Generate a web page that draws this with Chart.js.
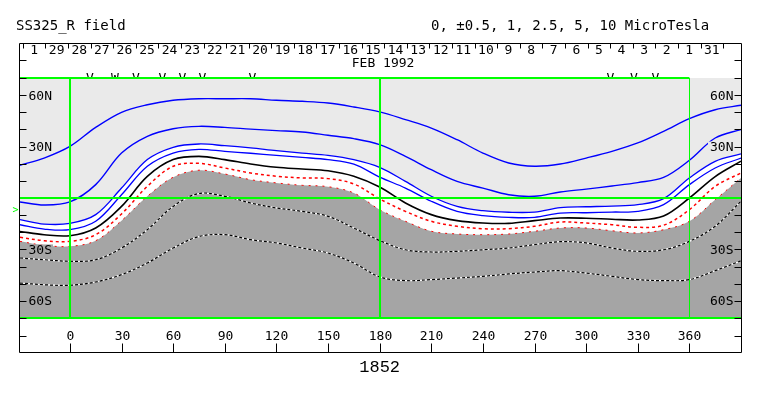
<!DOCTYPE html>
<html><head><meta charset="utf-8">
<script src="https://cdn.jsdelivr.net/npm/chart.js@4/dist/chart.umd.min.js"></script>
<style>html,body{margin:0;padding:0;background:#fff;}#wrap{width:763px;height:396px;}</style>
</head><body><div id="wrap"><canvas id="c" width="763" height="396"></canvas></div>
<script>
// ---- data ----
const longitudes = [-29,-15,0,15,30,45,60,75,90,105,120,135,150,165,180,195,210,225,240,255,270,285,300,315,330,345,360,375,390];
const contourPos5   = [19.1,23.3,30.1,41.2,50,54.4,57,57.9,57.9,57.9,57,56.4,55.4,53.1,50.2,45.7,40.8,34,26.2,20.4,18.5,19.8,23.3,27.2,32.1,38.9,46.3,51.5,54.1];
const contourPos2_5 = [-2.3,-4.1,-2.3,7.8,26.2,36,40.4,41.8,41.2,40.2,39.3,38.5,36.6,34.6,31.1,24.3,16.5,9.7,5.8,1.9,1,3.5,5.2,7,9,12,22,35,40];
const contourPos1   = [-12.6,-15.2,-14.8,-9.7,5.8,22.4,29.6,31.5,30.5,29.2,27.6,26.2,24.9,22.4,17.9,9.7,1,-4.9,-7.4,-8.3,-8.2,-5.6,-5.1,-4.7,-3.9,-0.4,11.7,21.4,25.7];
const contourPos0_5 = [-15.6,-18.1,-18.5,-13.6,1.9,18.5,26.2,28.4,27.2,26.1,24.9,23.7,22.4,19.8,12.2,5.8,-1.9,-7.8,-10.3,-11.3,-11.3,-8.8,-8.6,-8.2,-7.8,-3.9,7.8,17.5,23.3];
const contourZero   = [-19.5,-21.4,-22,-17.5,-4.9,12.6,22.4,24.3,22.4,19.8,17.9,16.9,15.9,12.7,6.4,-2.9,-9.7,-13.2,-14.6,-14.8,-13.2,-11.7,-11.8,-12.4,-12.8,-10.5,0,12.5,21.5];
const contourNeg0_5 = [-22.9,-24.9,-25.3,-21.4,-9.3,6.8,18.5,20.2,17.5,14.6,12.7,11.7,11.3,8.2,-0.5,-7.8,-13.6,-16.5,-17.9,-17.9,-16.5,-14,-14.6,-15.6,-17.1,-15.9,-6.8,6.8,14.6];
const contourNeg1   = [-25.3,-27.6,-28.2,-24.9,-13.2,1,12.1,16.2,14,10.7,8.8,7.4,6.6,2.9,-6.8,-13.6,-19.4,-21,-21.4,-21,-19.4,-17.5,-17.5,-19.1,-20.4,-18.5,-13.6,-1,11.7];
const contourNeg2_5 = [-35,-36,-36.9,-36,-29.2,-18.5,-4.9,2.6,1,-2.9,-5.8,-7.8,-10.7,-17.5,-24.8,-30.2,-31.5,-31.1,-30.2,-29.2,-27.2,-25.5,-26.2,-29.2,-31.1,-30.2,-25.3,-16.5,-1.9];
const contourNeg5   = [-49.6,-50.6,-50.9,-49,-44.7,-37.9,-29.2,-22.5,-21.4,-24.3,-26.2,-29.2,-32.1,-37.9,-46,-48.2,-47.6,-46.7,-45.7,-44.3,-43.2,-42.4,-43.8,-45.7,-47.6,-48.2,-47.6,-42.4,-36.6];

const xTickValues = [0,30,60,90,120,150,180,210,240,270,300,330,360];
const yTickLabels = {60:'60N',30:'30N','-30':'30S','-60':'60S'};
const dateLabels = ['1','29','28','27','26','25','24','23','22','21','20','19','18','17','16','15','14','13','12','11','10','9','8','7','6','5','4','3','2','1','31'];
const dateStartLon = -27.4;   // longitude of the first day boundary
const dayStepLon = 13.13;     // degrees of longitude per day
const markLons = [11.6,26.1,38.3,53.8,65.4,77,106.1,314.1,327.7,340.3];
const markChars = ['V','W','V','V','V','V','V','V','V','V'];
const titleLeft = 'SS325_R field';
const titleRight = '0, \u00B10.5, 1, 2.5, 5, 10 MicroTesla';
const monthLabel = 'FEB 1992';
const rotationLabel = '1852';
const b0Lat = -7;

const pts = arr => arr.map((v,i)=>({x:longitudes[i], y:v}));
const FONT = '"DejaVu Sans Mono", "Liberation Mono", monospace';

function ds(data, color, width, dash, extra){
  return Object.assign({data:pts(data), borderColor:color, borderWidth:width, borderDash:dash||[], fill:false,
    pointRadius:0, tension:0.35}, extra||{});
}

const datasets = [
  ds(contourPos5,'#0000ff',1.4),
  ds(contourPos2_5,'#0000ff',1.4),
  ds(contourPos1,'#0000ff',1.3),
  ds(contourPos0_5,'#0000ff',1.3),
  ds(contourZero,'#000000',1.6),
  ds(contourNeg0_5,'#ff0000',1.5,[3,3]),
  ds(contourNeg1,'#ff0000',1,[2,5],{fill:'start', backgroundColor:'#a5a5a5'}),
  ds(contourNeg2_5,'#000000',1.2,[3,2]),
  ds(contourNeg2_5,'#ffffff',1.2),
  ds(contourNeg5,'#000000',1.2,[3,2]),
  ds(contourNeg5,'#ffffff',1.2),
  ds(contourPos1,'rgba(0,0,0,0)',0,[],{fill:'start', backgroundColor:'#ffffff'})
];

const deco = {
  id:'deco',
  beforeDraw(chart){
    const {ctx, chartArea:a, scales:{x}} = chart;
    ctx.save();
    ctx.fillStyle='#000'; ctx.font='13px '+FONT; ctx.textAlign='center'; ctx.textBaseline='alphabetic';
    markLons.forEach((l,i)=>ctx.fillText(markChars[i], x.getPixelForValue(l), a.top+3.5));
    ctx.fillStyle='#eaeaea';
    ctx.fillRect(a.left, a.top, a.right-a.left, a.bottom-a.top);
    ctx.restore();
  },
  afterDatasetsDraw(chart){
    const {ctx, chartArea:a, scales:{x,y}} = chart;
    ctx.save();
    const line=(x1,y1,x2,y2,c,w)=>{ctx.strokeStyle=c;ctx.lineWidth=w;ctx.beginPath();ctx.moveTo(x1,y1);ctx.lineTo(x2,y2);ctx.stroke();};
    const G='#00ff00';
    // green reference lines
    line(Math.round(x.getPixelForValue(0)),a.top,Math.round(x.getPixelForValue(0)),a.bottom,G,2);
    line(Math.round(x.getPixelForValue(180)),a.top,Math.round(x.getPixelForValue(180)),a.bottom,G,2);
    line(Math.round(x.getPixelForValue(360))+0.5,a.top,Math.round(x.getPixelForValue(360))+0.5,a.bottom,G,1);
    const y0=Math.round(y.getPixelForValue(0));
    line(a.left,y0,a.right,y0,G,2);
    line(a.left,a.top,x.getPixelForValue(360),a.top,G,2);
    line(a.left,a.bottom,a.right,a.bottom,G,2);
    // frame
    const L=19.5, R=741.5, T=43.5, B=352.5;
    line(L,T,R,T,'#000',1);
    line(L,T,L,B,'#000',1);
    line(R,T,R,B,'#000',1);
    line(L,B,R,B,'#000',1);
    // side ticks
    const tickYs=[];
    for(let lat=-70;lat<=70;lat+=10){ if(lat!==0) tickYs.push(Math.round(y.getPixelForValue(lat))+0.5); }
    tickYs.push(a.top-17.5, a.bottom+18.5);
    tickYs.forEach(t=>{line(L,t,L+7,t,'#000',1);line(R-7,t,R,t,'#000',1);});
    // y labels
    ctx.font='13px '+FONT; ctx.textBaseline='middle';
    Object.keys(yTickLabels).forEach(k=>{
      const lat=+k, ty=y.getPixelForValue(lat)+1, txt=yTickLabels[k];
      const w=ctx.measureText(txt).width;
      ctx.fillStyle = lat>0 ? '#eaeaea' : '#a5a5a5';
      ctx.fillRect(L+8, ty-6, w+2, 12);
      ctx.fillRect(R-10-w, ty-6, w+2, 12);
      ctx.fillStyle='#000';
      ctx.textAlign='left'; ctx.fillText(txt, L+9, ty);
      ctx.textAlign='right'; ctx.fillText(txt, R-8, ty);
    });
    // green B0 marker
    ctx.fillStyle=G; ctx.textAlign='right'; ctx.font='10px '+FONT;
    ctx.fillText('>', L-1, y.getPixelForValue(b0Lat));
    // x labels and ticks
    ctx.font='13px '+FONT; ctx.fillStyle='#000'; ctx.textAlign='center';
    xTickValues.forEach(v=>{
      const px=Math.round(x.getPixelForValue(v))+0.5;
      ctx.fillText(String(v), px, a.bottom+19);
      line(px,B-9,px,B,'#000',1);
    });
    // date strip
    for(let k=0;k<=dateLabels.length;k++){
      const px=Math.round(x.getPixelForValue(dateStartLon+k*dayStepLon))+0.5;
      line(px,T,px,T+5,'#000',1);
    }
    dateLabels.forEach((d,k)=>{
      ctx.fillText(d, x.getPixelForValue(dateStartLon+(k+0.5)*dayStepLon), T+7);
    });
    ctx.fillText(monthLabel, x.getPixelForValue(182), T+20);
    // titles
    ctx.font='14px '+FONT; ctx.textAlign='left';
    ctx.fillText(titleLeft, 16, 26);
    ctx.fillText(titleRight, 431, 26);
    ctx.font='17px "Liberation Mono", monospace'; ctx.textAlign='center';
    ctx.fillText(rotationLabel, x.getPixelForValue(180), 367);
    ctx.restore();
  }
};

new Chart(document.getElementById('c'), {
  type:'line',
  data:{datasets},
  options:{
    responsive:false, animation:false, devicePixelRatio:1,
    layout:{padding:{left:20,right:22,top:78,bottom:78}},
    scales:{x:{type:'linear',min:-29,max:390,display:false}, y:{type:'linear',min:-70,max:70,display:false}},
    plugins:{legend:{display:false}, tooltip:{enabled:false}, filler:{drawTime:'beforeDatasetsDraw'}},
    events:[]
  },
  plugins:[deco]
});
</script></body></html>
